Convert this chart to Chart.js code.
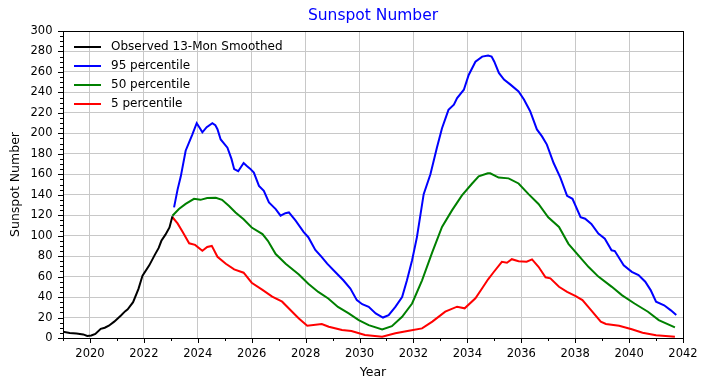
<!DOCTYPE html>
<html>
<head>
<meta charset="utf-8">
<script src="https://cdn.jsdelivr.net/npm/chart.js@4/dist/chart.umd.min.js"></script>
<style>
  html, body { margin: 0; padding: 0; background: #fff; }
</style>
</head>
<body>
<canvas id="c" width="709" height="390"></canvas>
<script>
// observed 13-month smoothed
const obsYears  = [2019.0, 2019.25, 2019.5, 2019.75, 2019.9, 2020.05, 2020.2, 2020.4, 2020.55, 2020.7, 2020.9, 2021.15, 2021.3, 2021.4, 2021.6, 2021.8, 2021.95, 2022.2, 2022.4, 2022.55, 2022.65, 2022.8, 2022.95, 2023.06];
const obsValues = [6, 5, 4.5, 3.5, 2, 2.5, 4, 9, 10, 12, 16, 22, 26, 28, 35, 48, 61, 71, 81, 88, 95, 101, 108, 119];

// 95 percentile
const p95Years  = [2023.12, 2023.25, 2023.37, 2023.55, 2023.8, 2023.96, 2024.08, 2024.17, 2024.33, 2024.54, 2024.65, 2024.73, 2024.85, 2025.1, 2025.25, 2025.35, 2025.5, 2025.7, 2025.82, 2025.94, 2026.08, 2026.27, 2026.45, 2026.64, 2026.89, 2027.07, 2027.25, 2027.38, 2027.63, 2027.93, 2028.1, 2028.36, 2028.6, 2028.8, 2029.1, 2029.4, 2029.66, 2029.9, 2030.1, 2030.34, 2030.6, 2030.87, 2031.08, 2031.33, 2031.58, 2031.76, 2031.95, 2032.13, 2032.38, 2032.63, 2032.87, 2033.06, 2033.3, 2033.5, 2033.62, 2033.87, 2034.05, 2034.3, 2034.55, 2034.77, 2034.9, 2035.0, 2035.17, 2035.36, 2035.6, 2035.9, 2036.1, 2036.33, 2036.58, 2036.77, 2036.95, 2037.2, 2037.45, 2037.7, 2037.9, 2038.2, 2038.37, 2038.6, 2038.86, 2039.1, 2039.35, 2039.47, 2039.8, 2040.1, 2040.35, 2040.6, 2040.8, 2041.0, 2041.3, 2041.55, 2041.75];
const p95Values = [127.6, 145, 158, 183, 199, 210, 205, 201, 206, 210, 208, 204, 194, 186, 175, 165, 163, 171, 168, 165.5, 161.6, 148.7, 143.8, 132.5, 126, 119.5, 122, 122.7, 114.6, 103.4, 98.5, 86, 79, 72.6, 64.5, 56.4, 48.3, 37, 33, 30.4, 24, 20, 22.4, 30.4, 40, 56.4, 76, 98.6, 140.6, 160, 186, 205, 223, 228, 234.5, 242.6, 257, 270, 275, 276, 275, 270, 259, 252.6, 247.6, 241, 233, 221.6, 203.8, 197, 189, 171, 156.8, 139, 136, 118, 116.6, 111.5, 102, 97, 85.7, 85, 71, 64.6, 61.5, 55, 46.8, 35.5, 32, 27, 22.4];

// 50 percentile
const p50Years  = [2023.06, 2023.3, 2023.55, 2023.86, 2024.1, 2024.35, 2024.67, 2024.9, 2025.16, 2025.4, 2025.7, 2026.0, 2026.4, 2026.6, 2026.89, 2027.26, 2027.75, 2028.1, 2028.47, 2028.84, 2029.2, 2029.6, 2029.97, 2030.34, 2030.84, 2031.2, 2031.58, 2031.95, 2032.32, 2032.7, 2033.06, 2033.43, 2033.8, 2034.17, 2034.42, 2034.76, 2034.85, 2035.16, 2035.53, 2035.9, 2036.27, 2036.64, 2037.0, 2037.4, 2037.75, 2038.12, 2038.5, 2038.86, 2039.36, 2039.73, 2040.2, 2040.7, 2041.1, 2041.7];
const p50Values = [119.5, 126, 131, 136, 135, 136.7, 137, 135, 129, 122.7, 116, 108, 101.5, 95, 82, 72.5, 62, 53, 45, 38.6, 30.4, 24, 17.5, 12.6, 8.4, 11.6, 20.7, 33.7, 56.4, 84, 108.5, 124.7, 139.4, 150.7, 158, 161, 161, 156.8, 156, 151, 140.6, 131, 118, 108.5, 92, 80.7, 69.3, 60, 50, 41.9, 33.7, 25.7, 17.5, 10.4];

// 5 percentile
const p5Years  = [2023.06, 2023.25, 2023.43, 2023.68, 2023.9, 2024.17, 2024.35, 2024.52, 2024.73, 2025.04, 2025.35, 2025.7, 2026.0, 2026.4, 2026.76, 2027.13, 2027.5, 2027.75, 2028.06, 2028.6, 2028.86, 2029.35, 2029.7, 2030.2, 2030.84, 2031.33, 2031.83, 2032.32, 2032.7, 2033.18, 2033.62, 2033.9, 2034.3, 2034.55, 2034.77, 2034.98, 2035.28, 2035.47, 2035.65, 2035.9, 2036.2, 2036.4, 2036.64, 2036.9, 2037.08, 2037.4, 2037.7, 2038.02, 2038.27, 2038.58, 2038.95, 2039.14, 2039.63, 2040.1, 2040.5, 2041.0, 2041.7];
const p5Values = [118, 112, 104, 92.5, 91, 85.3, 89, 90, 79.4, 72.6, 67, 63.8, 54, 47, 40.4, 35.5, 25.7, 19, 12, 13.7, 11, 7.8, 6.8, 2.9, 1.3, 4.6, 7, 9.4, 16, 25.7, 30.6, 29, 38.8, 48.6, 57.4, 64.5, 74.5, 73.5, 77, 75, 74.5, 76.8, 69.6, 59.3, 58.3, 50, 45, 41, 37, 27.4, 16, 13.7, 12, 8.5, 5.2, 2.6, 1.3];

const xTickYears = [2020, 2022, 2024, 2026, 2028, 2030, 2032, 2034, 2036, 2038, 2040, 2042];
const yTickValues = [0, 20, 40, 60, 80, 100, 120, 140, 160, 180, 200, 220, 240, 260, 280, 300];

function pts(xs, ys) {
  return xs.map((x, i) => ({ x: x, y: ys[i] }));
}

const FONT = 'DejaVu Sans';
Chart.defaults.font.family = FONT;
Chart.defaults.color = '#000';

const decor = {
  id: 'decor',
  afterDatasetsDraw(chart) {
    const { ctx, chartArea: a, scales: { x, y } } = chart;
    ctx.save();

    // ticks, major + minor
    ctx.strokeStyle = '#000';
    ctx.lineWidth = 1;
    ctx.beginPath();
    for (let v = 2019; v <= 2042; v++) {
      const px = Math.round(x.getPixelForValue(v)) + 0.5;
      const len = v % 2 === 0 ? 5 : 3;
      ctx.moveTo(px, a.bottom);
      ctx.lineTo(px, a.bottom + len);
    }
    for (let v = 0; v <= 300; v += 5) {
      const py = Math.round(y.getPixelForValue(v)) + 0.5;
      const len = v % 20 === 0 ? 5 : 3;
      ctx.moveTo(a.left, py);
      ctx.lineTo(a.left - len, py);
    }
    ctx.stroke();

    // frame
    ctx.strokeRect(Math.round(a.left) + 0.5, Math.round(a.top) + 0.5,
                   Math.round(a.right - a.left), Math.round(a.bottom - a.top));

    // title
    ctx.fillStyle = '#0000ff';
    ctx.font = '15.5px "' + FONT + '"';
    ctx.textAlign = 'center';
    ctx.textBaseline = 'middle';
    ctx.fillText('Sunspot Number', (a.left + a.right) / 2, 16);

    // legend in upper left, no frame
    ctx.font = '12px "' + FONT + '"';
    ctx.textAlign = 'left';
    chart.data.datasets.forEach((ds, i) => {
      const ly = 47 + i * 19;
      ctx.strokeStyle = ds.borderColor;
      ctx.lineWidth = 2;
      ctx.beginPath();
      ctx.moveTo(a.left + 11, ly);
      ctx.lineTo(a.left + 38, ly);
      ctx.stroke();
      ctx.fillStyle = '#000';
      ctx.fillText(ds.label, a.left + 48, ly);
    });
    ctx.restore();
  }
};

new Chart(document.getElementById('c'), {
  type: 'line',
  data: {
    datasets: [
      { label: 'Observed 13-Mon Smoothed', data: pts(obsYears, obsValues), borderColor: '#000000' },
      { label: '95 percentile', data: pts(p95Years, p95Values), borderColor: '#0000ff' },
      { label: '50 percentile', data: pts(p50Years, p50Values), borderColor: '#008000' },
      { label: '5 percentile', data: pts(p5Years, p5Values), borderColor: '#ff0000' }
    ]
  },
  options: {
    responsive: false,
    animation: false,
    devicePixelRatio: 1,
    layout: { padding: { left: 0, right: 26, top: 31, bottom: 0 } },
    elements: {
      line: { borderWidth: 2, tension: 0, fill: false },
      point: { radius: 0 }
    },
    plugins: {
      legend: { display: false },
      title: { display: false },
      tooltip: { enabled: false }
    },
    scales: {
      x: {
        type: 'linear',
        min: 2019,
        max: 2042,
        afterBuildTicks: s => { s.ticks = xTickYears.map(v => ({ value: v })); },
        afterFit: s => { s.height = 52; },
        ticks: { autoSkip: false, maxRotation: 0, padding: 9, font: { size: 11.5 }, color: '#000', callback: v => String(v) },
        grid: { color: '#c8c8c8', lineWidth: 1, drawTicks: false },
        border: { display: false },
        title: { display: true, text: 'Year', font: { size: 12.5 }, color: '#000', padding: { top: 0, bottom: 9.5 } }
      },
      y: {
        type: 'linear',
        min: 0,
        max: 300,
        afterBuildTicks: s => { s.ticks = yTickValues.map(v => ({ value: v })); },
        afterFit: s => { s.width = 63; },
        ticks: { autoSkip: false, padding: 10.5, font: { size: 11.5 }, color: '#000', callback: v => String(v) },
        grid: { color: '#c8c8c8', lineWidth: 1, drawTicks: false },
        border: { display: false },
        title: { display: true, text: 'Sunspot Number', font: { size: 12.5 }, color: '#000', padding: { top: 8.5, bottom: 0 } }
      }
    }
  },
  plugins: [decor]
});
</script>
</body>
</html>
